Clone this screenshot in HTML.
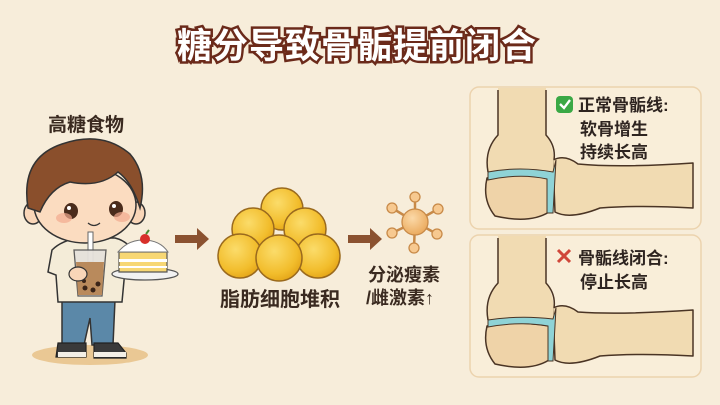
<!DOCTYPE html>
<html><head><meta charset="utf-8"><style>
html,body{margin:0;padding:0;background:#f7edda;}
svg{display:block;font-family:"Liberation Sans","Noto Sans CJK SC",sans-serif;}
</style></head><body>
<svg width="720" height="405" viewBox="0 0 720 405" xmlns="http://www.w3.org/2000/svg">
<defs>
<radialGradient id="ball" cx="0.4" cy="0.35" r="0.7">
<stop offset="0" stop-color="#fbdc6a"/><stop offset="0.7" stop-color="#f2bd2c"/><stop offset="1" stop-color="#e3a316"/></radialGradient>
<radialGradient id="horm" cx="0.4" cy="0.35" r="0.7">
<stop offset="0" stop-color="#fbd9a8"/><stop offset="1" stop-color="#eaa85a"/></radialGradient>
</defs>
<rect width="720" height="405" fill="#f7edda"/>
<text x="357" y="58" text-anchor="middle" font-size="35" font-weight="bold" fill="#fff" stroke="#6b2a1a" stroke-width="5" paint-order="stroke" letter-spacing="1">糖分导致骨骺提前闭合</text>

<text x="48" y="131" font-size="19" font-weight="bold" fill="#3a2a20">高糖食物</text>

<ellipse cx="90" cy="355" rx="58" ry="10" fill="#eac894"/>
<path d="M62 300 L115 300 L113 345 L92 345 L90 318 L84 345 L62 345 Z" fill="#5b88a8" stroke="#333" stroke-width="1.5"/>
<path d="M58 343 h28 v14 h-30 z" fill="#3a3a3a" stroke="#222" stroke-width="1.2"/>
<path d="M94 343 h24 l8 10 v5 h-32 z" fill="#3a3a3a" stroke="#222" stroke-width="1.2"/>
<rect x="58" y="352" width="28" height="5" fill="#f3efe6"/>
<rect x="94" y="352" width="32" height="5" fill="#f3efe6"/>
<path d="M52 250 Q62 240 80 238 L115 238 Q132 242 138 262 L125 270 L122 302 L58 302 L56 275 L48 272 Z" fill="#f4ecd8" stroke="#333" stroke-width="1.5"/>
<ellipse cx="33" cy="213" rx="9" ry="11" fill="#f9d6b8" stroke="#333" stroke-width="1.5"/>
<ellipse cx="136" cy="213" rx="9" ry="11" fill="#f9d6b8" stroke="#333" stroke-width="1.5"/>
<ellipse cx="85" cy="205" rx="51" ry="38" fill="#fbdcc0" stroke="#333" stroke-width="1.5"/>
<path d="M28 208 Q20 158 62 144 Q102 130 130 154 Q148 175 140 208 Q132 182 118 172 Q100 188 70 182 Q50 188 40 212 Z" fill="#8a4f2c" stroke="#333" stroke-width="1.5"/>
<ellipse cx="71" cy="211" rx="7" ry="8" fill="#4a2c1c"/>
<ellipse cx="116" cy="209" rx="7" ry="8" fill="#4a2c1c"/>
<circle cx="69" cy="208" r="2" fill="#fff"/><circle cx="114" cy="206" r="2" fill="#fff"/>
<ellipse cx="64" cy="218" rx="8" ry="5" fill="#f2a98f" opacity="0.7"/>
<ellipse cx="122" cy="217" rx="8" ry="5" fill="#f2a98f" opacity="0.7"/>
<path d="M88 223 Q94 228 100 223" fill="none" stroke="#333" stroke-width="1.3"/>
<rect x="88" y="232" width="5" height="30" fill="#fff" stroke="#666" stroke-width="1"/>
<path d="M74 250 L106 250 L102 296 L78 296 Z" fill="#e6e2dc" stroke="#555" stroke-width="1.3" opacity="0.95"/>
<path d="M76 262 L104 262 L102 295 L78 295 Z" fill="#b98a5c"/>
<circle cx="85" cy="288" r="2.5" fill="#3a2418"/><circle cx="93" cy="290" r="2.5" fill="#3a2418"/><circle cx="98" cy="284" r="2.5" fill="#3a2418"/><circle cx="84" cy="281" r="2" fill="#3a2418"/>
<ellipse cx="78" cy="274" rx="9" ry="7" fill="#f9d6b8" stroke="#333" stroke-width="1.2"/>
<ellipse cx="145" cy="274" rx="33" ry="6" fill="#f2f2f2" stroke="#555" stroke-width="1.3"/>
<path d="M119 252 L167 252 L167 272 L119 272 Z" fill="#f7d774" stroke="#555" stroke-width="1.2"/>
<rect x="119" y="259" width="48" height="3" fill="#fff"/>
<rect x="119" y="266" width="48" height="2" fill="#fff"/>
<path d="M118 252 Q128 240 143 240 Q160 240 168 252 Z" fill="#fff" stroke="#777" stroke-width="1"/>
<circle cx="145" cy="239" r="5" fill="#d8302a"/>
<path d="M146 234 l3 -4" stroke="#4a8a30" stroke-width="2"/>

<path d="M175 235 h22 v-7 l12 11 -12 11 v-7 h-22 z" fill="#8b5230"/>

<g stroke="#9a6a1e" stroke-width="1.5" fill="url(#ball)">
<circle cx="282" cy="209" r="21"/>
<circle cx="253" cy="229" r="21"/>
<circle cx="305" cy="229" r="21"/>
<circle cx="240" cy="256" r="22"/>
<circle cx="318" cy="256" r="22"/>
<circle cx="279" cy="258" r="23"/>
</g>
<text x="280" y="306" text-anchor="middle" font-size="20" font-weight="bold" fill="#3a2a20">脂肪细胞堆积</text>

<path d="M348 235 h22 v-7 l12 11 -12 11 v-7 h-22 z" fill="#8b5230"/>

<g stroke="#c88a48" stroke-width="2.5">
<line x1="415" y1="222" x2="415" y2="197"/><line x1="415" y1="222" x2="392" y2="208"/>
<line x1="415" y1="222" x2="438" y2="209"/><line x1="415" y1="222" x2="392" y2="233"/>
<line x1="415" y1="222" x2="437" y2="234"/><line x1="415" y1="222" x2="414" y2="248"/>
</g>
<g fill="#f7c990" stroke="#c88a48" stroke-width="1.3">
<circle cx="415" cy="197" r="5"/><circle cx="392" cy="208" r="5"/><circle cx="438" cy="209" r="5"/>
<circle cx="392" cy="233" r="5"/><circle cx="437" cy="234" r="5"/><circle cx="414" cy="248" r="5"/>
<circle cx="415" cy="222" r="13" fill="url(#horm)"/>
</g>
<text x="368" y="281" font-size="18" font-weight="bold" fill="#3a2a20">分泌瘦素</text>
<text x="366" y="304" font-size="18" font-weight="bold" fill="#3a2a20">/雌激素↑</text>

<rect x="470" y="87" width="231" height="142" rx="9" fill="#f9eed9" stroke="#ecd3ae" stroke-width="1.5"/>
<rect x="470" y="235" width="231" height="142" rx="9" fill="#f9eed9" stroke="#ecd3ae" stroke-width="1.5"/>

<g stroke="#4a3424" stroke-width="1.5" stroke-linejoin="round">
<path d="M553 160 Q565 154 578 164 Q620 168 693 163 L693 208 Q640 205 600 208 Q570 220 555 212 Z" fill="#f1dbb2"/>
<path d="M498 88 L498 135 Q486 150 488 172 L553 172 Q556 150 546 135 L546 88 Z" fill="#f1dbb2" stroke="none"/>
<path d="M498 90 L498 135 Q484 150 488 172" fill="none"/>
<path d="M546 90 L546 135 Q556 146 554 160" fill="none"/>
<path d="M487 178 Q510 172 549 178 L549 212 Q530 224 495 216 Q482 200 487 178 Z" fill="#efd3a8"/>
</g>
<path d="M488 172 Q520 166 553 172 L556 160 L553 213 L547 213 L547 179 Q520 173 488 180 Z" fill="#8fd3d6" stroke="#4a3424" stroke-width="1"/>

<g stroke="#4a3424" stroke-width="1.5" stroke-linejoin="round">
<path d="M553 308 Q565 302 578 312 Q620 315 693 310 L693 356 Q640 353 600 356 Q570 368 555 360 Z" fill="#f1dbb2"/>
<path d="M498 236 L498 283 Q486 298 488 320 L553 320 Q556 298 546 283 L546 236 Z" fill="#f1dbb2" stroke="none"/>
<path d="M498 238 L498 283 Q484 298 488 320" fill="none"/>
<path d="M546 238 L546 283 Q556 294 554 308" fill="none"/>
<path d="M487 326 Q510 320 549 326 L549 360 Q530 372 495 364 Q482 348 487 326 Z" fill="#efd3a8"/>
</g>
<path d="M488 320 Q520 315 553 319 L556 308 L553 361 L548 361 L548 326 Q520 321 488 327 Z" fill="#8fd3d6" stroke="#4a3424" stroke-width="1"/>

<rect x="556" y="96" width="17" height="17" rx="4" fill="#3aa845"/>
<path d="M560 104 l4 4 l6 -8" fill="none" stroke="#fff" stroke-width="2.3"/>
<text x="578" y="111" font-size="17" font-weight="bold" fill="#2e2420">正常骨骺线:</text>
<text x="580" y="135" font-size="17" font-weight="bold" fill="#2e2420">软骨增生</text>
<text x="580" y="158" font-size="17" font-weight="bold" fill="#2e2420">持续长高</text>
<path d="M558 250 l12 12 M570 250 l-12 12" stroke="#d0473a" stroke-width="3"/>
<text x="578" y="264" font-size="17" font-weight="bold" fill="#2e2420">骨骺线闭合:</text>
<text x="580" y="288" font-size="17" font-weight="bold" fill="#2e2420">停止长高</text>
</svg>
</body></html>
